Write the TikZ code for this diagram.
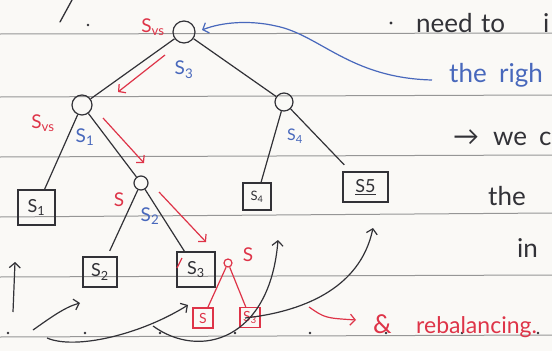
\documentclass[tikz,border=0pt]{standalone}
\usepackage{fontspec}
\setmainfont{Lato}
\usetikzlibrary{arrows.meta}
\definecolor{pen}{RGB}{50,50,55}
\definecolor{redpen}{RGB}{222,52,72}
\definecolor{bluepen}{RGB}{72,104,188}
\definecolor{ruled}{RGB}{150,150,150}
\definecolor{paper}{RGB}{250,249,246}
\newcommand\lowidx[1]{\textsubscript{#1}}
\begin{document}
\begin{tikzpicture}[x=1pt,y=-1pt,
  inode/.style={circle,draw=pen,line width=1.2pt,inner sep=0pt},
  leafbox/.style={draw=pen,line width=1.2pt,inner sep=0pt,text=pen,font=\fontsize{18}{18}\selectfont},
  redbox/.style={draw=redpen,line width=1.2pt,inner sep=0pt,minimum width=20pt,minimum height=20pt,text=redpen,font=\fontsize{14}{14}\selectfont},
  edge/.style={draw=pen,line width=1.2pt},
  redge/.style={draw=redpen,line width=1.2pt},
  tip/.style={-{Straight Barb[length=5pt,width=11pt]}},
  blackarr/.style={draw=pen,line width=1.2pt,tip},
  redarr/.style={draw=redpen,line width=1.2pt,tip},
  bluearr/.style={draw=bluepen,line width=1.2pt,tip},
  redlab/.style={text=redpen,font=\fontsize{19}{19}\selectfont,inner sep=0pt},
  bluelab/.style={text=bluepen,font=\fontsize{19}{19}\selectfont,inner sep=0pt},
  word/.style={anchor=base west,inner sep=0pt,font=\fontsize{26}{26}\selectfont},
]
\fill[paper] (0,0) rectangle (552,351);
\useasboundingbox (0,0) rectangle (552,351);
\clip (0,0) rectangle (552,351);
% ruled lines
\foreach \yl/\yr in {34/33,97/95,157/155,217/213,277/275,337/335}
  \draw[ruled,line width=1pt] (0,\yl) -- (552,\yr);
\foreach \xd in {8,85,160,235,310,386,462,538}
  \fill[pen] (\xd,333) circle (1.3pt);
% top-left stroke and dot
\draw[pen,line width=1.3pt,line cap=round] (60,22) -- (72,0);
\fill[pen] (88,25) circle (1.4pt);

% inner nodes
\node[inode,minimum size=22pt] (root) at (184,32) {};
\node[inode,minimum size=20pt] (lc) at (82,105) {};
\node[inode,minimum size=18pt] (rc) at (284,102) {};
\node[inode,minimum size=14pt] (mc) at (141,183) {};
\node[circle,draw=redpen,line width=1.2pt,inner sep=0pt,minimum size=8pt] (nc) at (228,263) {};

% leaves
\node[leafbox,minimum width=37pt,minimum height=35pt] (s1) at (36.5,207.5) {S\lowidx{1}};
\node[leafbox,minimum width=34pt,minimum height=30pt] (s2) at (100,272) {S\lowidx{2}};
\node[leafbox,minimum width=38pt,minimum height=35pt] (s3) at (196,269.5) {S\lowidx{3}};
\node[leafbox,minimum width=28pt,minimum height=27pt,font=\fontsize{13}{13}\selectfont] (s4) at (257,196.5) {S\lowidx{4}};
\node[leafbox,minimum width=45pt,minimum height=30pt] (s5) at (365.5,187) {\underline{S5}};
\node[redbox] (rl) at (203,318) {S};
\node[redbox] (rr) at (250,317.5) {S\lowidx{3}};
\draw[redpen,line width=1.2pt] (177,268) -- (182,258);

% tree edges
\draw[edge] (root) -- (lc);
\draw[edge] (root) -- (rc);
\draw[edge] (lc) -- (s1);
\draw[edge] (lc) -- (mc);
\draw[edge,shorten >=6pt] (mc) -- (s2);
\draw[edge] (mc) -- (s3);
\draw[edge] (rc) -- (s4);
\draw[edge,shorten >=9pt] (rc) -- (s5);
\draw[redge] (nc) -- (rl);
\draw[redge] (nc) -- (rr);

% labels
\node[redlab] (l1) at (153,27) {S\lowidx{vs}};
\node[bluelab] (l2) at (184,70) {S\lowidx{3}};
\node[redlab] (l3) at (43,123) {S\lowidx{vs}};
\node[bluelab] (l4) at (85,137) {S\lowidx{1}};
\node[redlab] (l5) at (119,200) {S};
\node[bluelab] (l6) at (150,216) {S\lowidx{2}};
\node[redlab] (l7) at (248,255) {S};
\node[bluelab,font=\fontsize{16}{16}\selectfont] (l8) at (295,136) {S\lowidx{4}};

% red arrows along the path
\coordinate (ra1s) at (165,55);  \coordinate (ra1e) at (118,92);
\coordinate (ra2s) at (103,118); \coordinate (ra2e) at (144,163);
\coordinate (ra3s) at (159,192); \coordinate (ra3e) at (206,242);
\draw[redarr] (ra1s) -- (ra1e);
\draw[redarr] (ra2s) -- (ra2e);
\draw[redarr] (ra3s) -- (ra3e);

% blue arrow
\coordinate (bs) at (432,80);
\coordinate (be) at (202,30);
\draw[bluearr] (bs) .. controls (350,78) and (320,35) .. (276,26) .. controls (250,20) and (222,22) .. (be);

% black arrows at bottom
\coordinate (a1s) at (13,312); \coordinate (a1e) at (15,262);
\coordinate (a2s) at (33,330); \coordinate (a2e) at (80,303);
\coordinate (a3s) at (47,338); \coordinate (a3e) at (188,305);
\coordinate (a4s) at (153,326); \coordinate (a4e) at (278,240);
\coordinate (a5s) at (245,318); \coordinate (a5e) at (373,228);
\draw[blackarr] (a1s) -- (a1e);
\draw[blackarr] (a2s) .. controls (50,318) and (65,307) .. (a2e);
\draw[blackarr] (a3s) .. controls (75,350) and (140,335) .. (a3e);
\draw[blackarr] (a4s) .. controls (200,360) and (270,340) .. (a4e);
\draw[blackarr] (a5s) .. controls (300,312) and (360,290) .. (a5e);

% red arrow to rebalancing
\coordinate (rs) at (309,307); \coordinate (re) at (356,320);
\draw[redarr] (rs) .. controls (325,318) .. (re);

% right column text
\fill[pen] (391,23) circle (1.6pt);
\node[word,text=pen] (w1) at (416,32) {need};
\node[word,text=pen] (w2) at (481,32) {to};
\node[word,text=pen] (w3) at (543,32) {i};
\node[word,text=bluepen] (w4) at (449,82) {the};
\node[word,text=bluepen] (w5) at (499,82) {righ};
\node[word,text=pen] (w6) at (453,145) {→};
\node[word,text=pen] (w7) at (493,145) {we};
\node[word,text=pen] (w8) at (539,145) {c};
\node[word,text=pen] (w9) at (488,205) {the};
\node[word,text=pen] (w10) at (517,257) {in};
\node[word,text=redpen] (w11) at (373,333) {\&};
\node[word,text=redpen,font=\fontsize{23}{23}\selectfont] (w12) at (416,333) {rebalancing.};
\end{tikzpicture}
\end{document}
